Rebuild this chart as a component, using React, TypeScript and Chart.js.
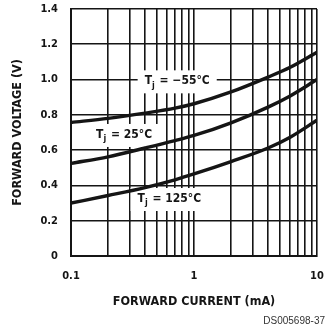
import { useEffect, useRef } from "react";
import { Chart, registerables } from "chart.js";

Chart.register(...registerables);

const currentMA = [0.1, 0.2, 0.4, 0.7, 1, 2, 4, 6, 10];
const vfMinus55 = [0.757, 0.78, 0.81, 0.838, 0.863, 0.93, 1.014, 1.068, 1.155];
const vf25 = [0.525, 0.562, 0.612, 0.654, 0.683, 0.755, 0.844, 0.906, 1.0];
const vf125 = [0.3, 0.343, 0.388, 0.432, 0.465, 0.535, 0.612, 0.672, 0.77];
const xGridValues = [0.1, 0.2, 0.3, 0.4, 0.5, 0.6, 0.7, 0.8, 0.9, 1, 2, 3, 4, 5, 6, 7, 8, 9, 10];
const xTickLabels = ["0.1", "1", "10"];
const yTickValues = [0, 0.2, 0.4, 0.6, 0.8, 1.0, 1.2, 1.4];
const curveTemps = ["\u221255\u00b0C", "25\u00b0C", "125\u00b0C"];
const labelAtCurrent = [0.73, 0.27, 0.63];
const labelAtVoltage = [0.99, 0.686, 0.323];

const FONT = "'DejaVu Sans Condensed', 'DejaVu Sans', sans-serif";
const INK = "#151515";

const labelPlugin = {
  id: "tjLabels",
  beforeDatasetsDraw(chart: any) {
    const { ctx, scales } = chart;
    const x = scales.x;
    const y = scales.y;
    curveTemps.forEach((t, i) => {
      const px = x.getPixelForValue(labelAtCurrent[i]);
      const py = y.getPixelForValue(labelAtVoltage[i]);
      const main = `bold 12px ${FONT}`;
      const sub = `bold 9px ${FONT}`;
      ctx.save();
      ctx.font = main;
      const wT = ctx.measureText("T").width;
      ctx.font = sub;
      const wj = ctx.measureText("j").width + 1;
      ctx.font = main;
      const rest = " = " + t;
      const wr = ctx.measureText(rest).width;
      const total = wT + wj + wr;
      ctx.fillStyle = "#ffffff";
      ctx.fillRect(px - total / 2 - 7, py - 11, total + 14, 23);
      ctx.fillStyle = INK;
      ctx.textBaseline = "middle";
      ctx.textAlign = "left";
      let cx = px - total / 2;
      ctx.font = main;
      ctx.fillText("T", cx, py);
      cx += wT;
      ctx.font = sub;
      ctx.fillText("j", cx, py + 4);
      cx += wj;
      ctx.font = main;
      ctx.fillText(rest, cx, py);
      ctx.restore();
    });
  },
  afterDraw(chart: any) {
    const { ctx } = chart;
    ctx.save();
    ctx.font = "10px 'Liberation Sans Narrow', 'Liberation Sans', Arial, sans-serif";
    ctx.fillStyle = "#333";
    ctx.textAlign = "right";
    ctx.textBaseline = "middle";
    ctx.fillText("DS005698-37", 325, 321);
    ctx.restore();
  },
};

export default function App() {
  const ref = useRef<HTMLCanvasElement | null>(null);
  useEffect(() => {
    if (!ref.current) return;
    const mk = (data: number[]) => ({
      data: currentMA.map((c, i) => ({ x: c, y: data[i] })),
      borderColor: INK,
      borderWidth: 3.4,
      pointRadius: 0,
      fill: false,
      cubicInterpolationMode: "monotone" as const,
    });
    const chart = new Chart(ref.current, {
      type: "line",
      data: {
        datasets: [mk(vfMinus55), mk(vf25), mk(vf125)],
      },
      options: {
        animation: false,
        responsive: false,
        devicePixelRatio: 1,
        layout: { padding: { top: 9, right: 10, left: 0, bottom: 0 } },
        plugins: { legend: { display: false }, tooltip: { enabled: false } },
        scales: {
          x: {
            type: "logarithmic",
            min: 0.1,
            max: 10,
            afterFit: (s: any) => {
              s.height = 77;
              s.paddingLeft = 0;
              s.paddingRight = 0;
            },
            afterBuildTicks: (s: any) => {
              s.ticks = xGridValues.map((v) => ({ value: v }));
            },
            ticks: {
              autoSkip: false,
              maxRotation: 0,
              padding: 14,
              color: INK,
              font: { family: FONT, weight: "bold", size: 11 },
              callback: (v: any) => {
                const s = String(Number(v));
                return xTickLabels.includes(s) ? s : "";
              },
            },
            grid: { color: INK, lineWidth: 1.6, drawTicks: false },
            border: { display: true, color: INK, width: 2 },
            title: {
              display: true,
              text: "FORWARD CURRENT (mA)",
              color: INK,
              font: { family: FONT, weight: "bold", size: 12.5 },
              padding: { top: 0, bottom: 24 },
            },
          },
          y: {
            type: "linear",
            min: 0,
            max: 1.4,
            afterFit: (s: any) => {
              s.width = 71;
              s.paddingTop = 0;
              s.paddingBottom = 0;
            },
            afterBuildTicks: (s: any) => {
              s.ticks = yTickValues.map((v) => ({ value: v }));
            },
            ticks: {
              padding: 13,
              color: INK,
              font: { family: FONT, weight: "bold", size: 11 },
              callback: (v: any) => (Number(v) === 0 ? "0" : Number(v).toFixed(1)),
            },
            grid: { color: INK, lineWidth: 1.6, drawTicks: false },
            border: { display: true, color: INK, width: 2 },
            title: {
              display: true,
              text: "FORWARD VOLTAGE (V)",
              color: INK,
              font: { family: FONT, weight: "bold", size: 12.5 },
              padding: { top: 10, bottom: 0 },
            },
          },
        },
      },
      plugins: [labelPlugin],
    });
    return () => chart.destroy();
  }, []);
  return (
    <div style={{ position: "fixed", left: 0, top: 0, width: 327, height: 333, background: "#fff" }}>
      <canvas ref={ref} width={327} height={333} />
    </div>
  );
}
